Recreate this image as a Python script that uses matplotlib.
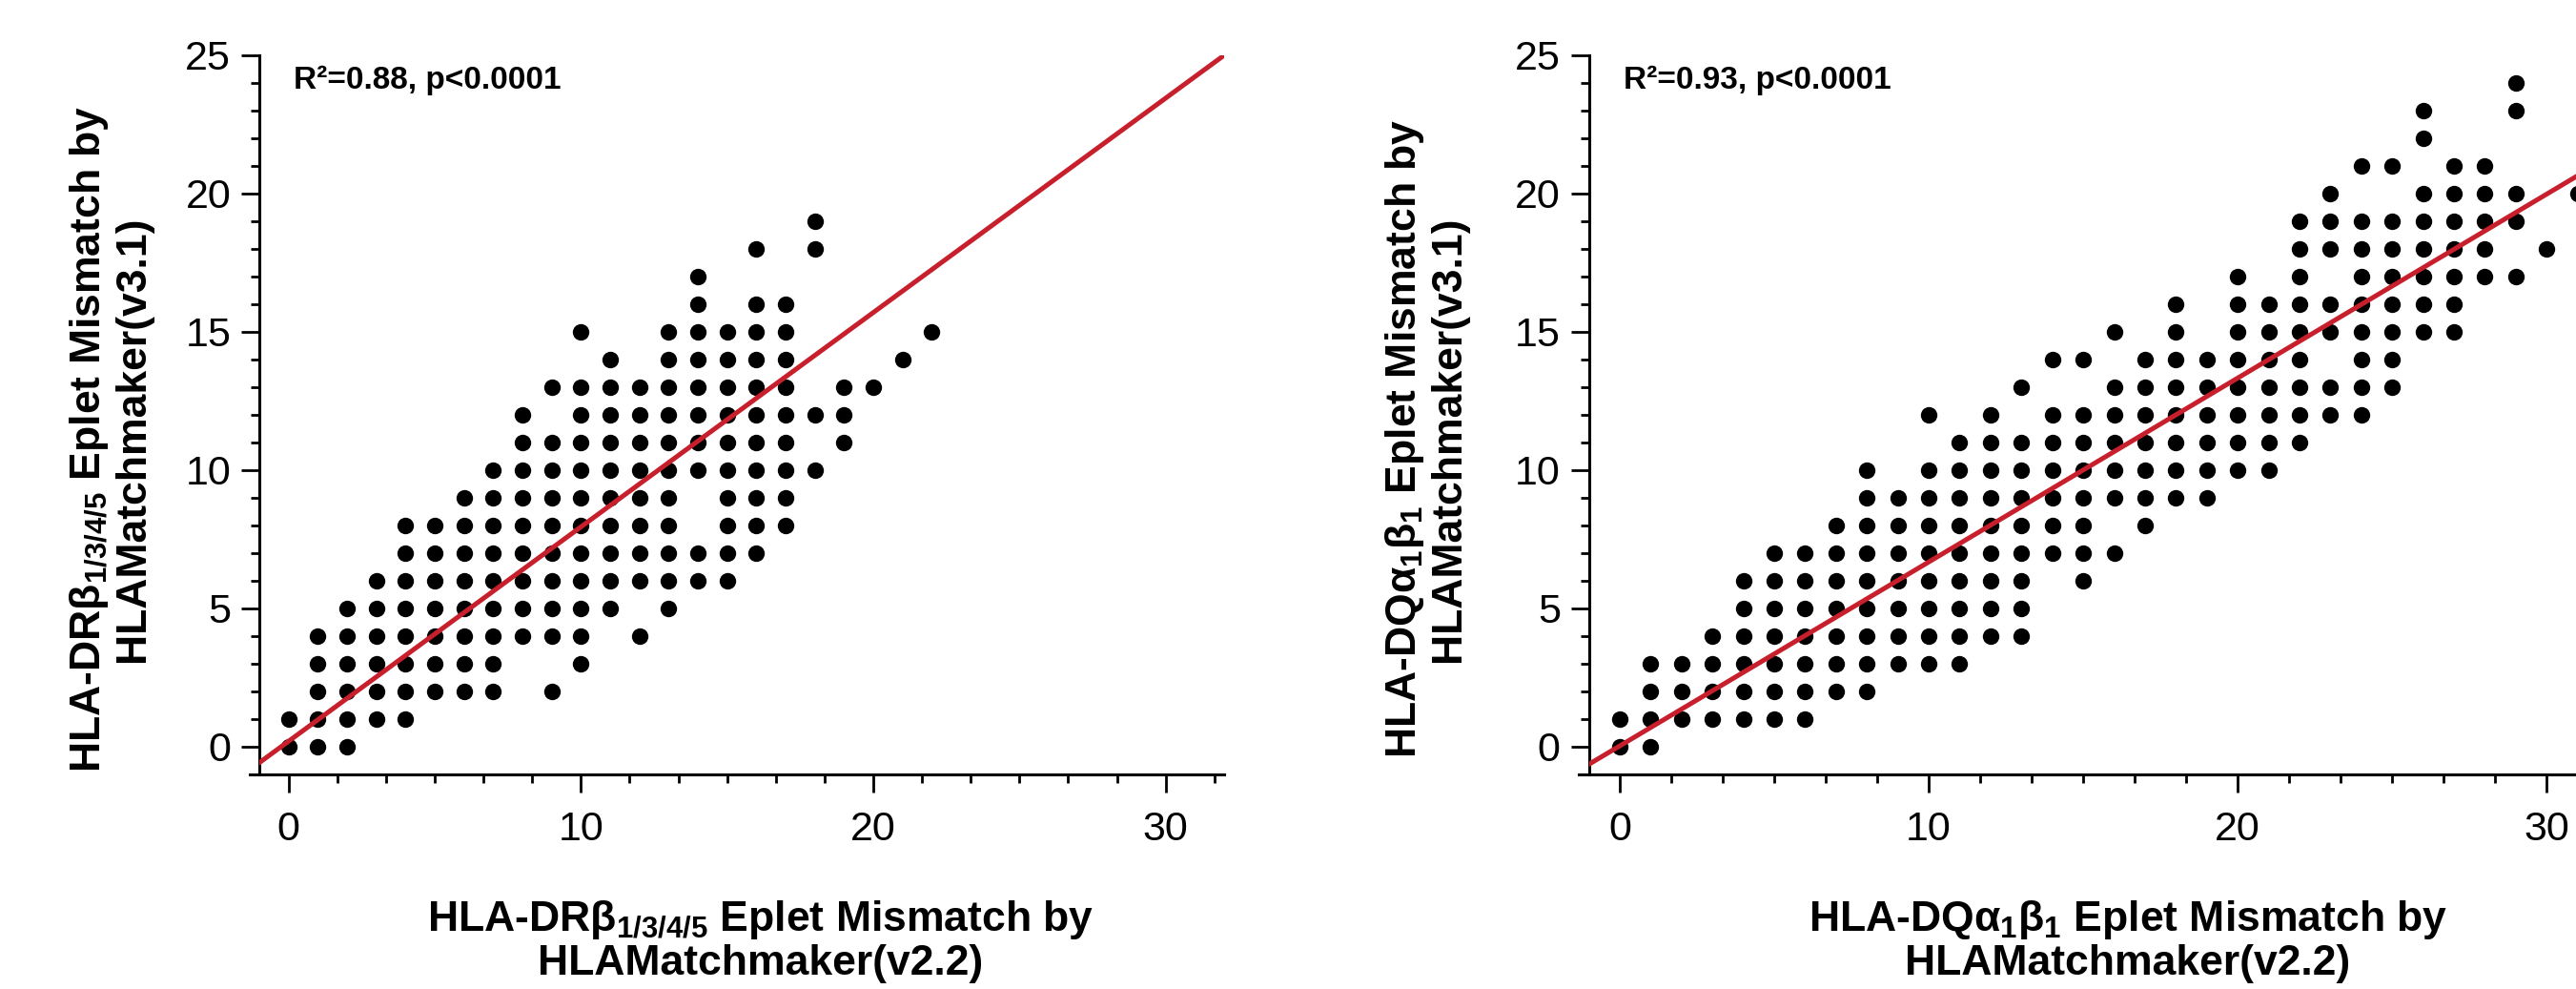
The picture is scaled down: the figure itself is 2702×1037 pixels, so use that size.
import numpy as np
import matplotlib
matplotlib.use('Agg')
import matplotlib.pyplot as plt
from matplotlib.ticker import MultipleLocator, AutoMinorLocator

plt.rcParams['font.family'] = ['Liberation Sans', 'DejaVu Sans']
plt.rcParams['mathtext.default'] = 'regular'

# HLA-DR panel: x value and the y values seen at that x
dr_x = list(range(0, 23))
dr_y = [
    [0, 1],
    [0, 1, 2, 3, 4],
    [0, 1, 2, 3, 4, 5],
    [1, 2, 3, 4, 5, 6],
    [1, 2, 3, 4, 5, 6, 7, 8],
    [2, 3, 4, 5, 6, 7, 8],
    [2, 3, 4, 5, 6, 7, 8, 9],
    [2, 3, 4, 5, 6, 7, 8, 9, 10],
    [4, 5, 6, 7, 8, 9, 10, 11, 12],
    [2, 4, 5, 6, 7, 8, 9, 10, 11, 13],
    [3, 4, 5, 6, 7, 8, 9, 10, 11, 12, 13, 15],
    [5, 6, 7, 8, 9, 10, 11, 12, 13, 14],
    [4, 6, 7, 8, 9, 10, 11, 12, 13],
    [5, 6, 7, 8, 9, 10, 11, 12, 13, 14, 15],
    [6, 7, 10, 11, 12, 13, 14, 15, 16, 17],
    [6, 7, 8, 9, 10, 11, 12, 13, 14, 15],
    [7, 8, 9, 10, 11, 12, 13, 14, 15, 16, 18],
    [8, 9, 10, 11, 12, 13, 14, 15, 16],
    [10, 12, 18, 19],
    [11, 12, 13],
    [13],
    [14],
    [15],
]
dr_fit = (0.775, 0.2)   # slope, intercept
dr_stat = 'R²=0.88, p<0.0001'

# HLA-DQ panel
dq_x = list(range(0, 32))
dq_y = [
    [0, 1],
    [0, 1, 2, 3],
    [1, 2, 3],
    [1, 2, 3, 4],
    [1, 2, 3, 4, 5, 6],
    [1, 2, 3, 4, 5, 6, 7],
    [1, 2, 3, 4, 5, 6, 7],
    [2, 3, 4, 5, 6, 7, 8],
    [2, 3, 4, 5, 6, 7, 8, 9, 10],
    [3, 4, 5, 6, 7, 8, 9],
    [3, 4, 5, 6, 7, 8, 9, 10, 12],
    [3, 4, 5, 6, 7, 8, 9, 10, 11],
    [4, 5, 6, 7, 8, 9, 10, 11, 12],
    [4, 5, 6, 7, 8, 9, 10, 11, 13],
    [7, 8, 9, 10, 11, 12, 14],
    [6, 7, 8, 9, 10, 11, 12, 14],
    [7, 9, 10, 11, 12, 13, 15],
    [8, 9, 10, 11, 12, 13, 14],
    [9, 10, 11, 12, 13, 14, 15, 16],
    [9, 10, 11, 12, 13, 14],
    [10, 11, 12, 13, 14, 15, 16, 17],
    [10, 11, 12, 13, 14, 15, 16],
    [11, 12, 13, 14, 15, 16, 17, 18, 19],
    [12, 13, 15, 16, 18, 19, 20],
    [12, 13, 14, 15, 16, 17, 18, 19, 21],
    [13, 14, 15, 16, 17, 18, 19, 21],
    [15, 16, 17, 18, 19, 20, 22, 23],
    [15, 16, 17, 18, 19, 20, 21],
    [17, 18, 19, 20, 21],
    [17, 19, 20, 23, 24],
    [18],
    [20],
]
dq_fit = (0.665, 0.03)
dq_stat = 'R²=0.93, p<0.0001'

dr_xlabel = 'HLA-DRβ$_{1/3/4/5}$ Eplet Mismatch by\nHLAMatchmaker(v2.2)'
dr_ylabel = 'HLA-DRβ$_{1/3/4/5}$ Eplet Mismatch by\nHLAMatchmaker(v3.1)'
dq_xlabel = 'HLA-DQα$_1$β$_1$ Eplet Mismatch by\nHLAMatchmaker(v2.2)'
dq_ylabel = 'HLA-DQα$_1$β$_1$ Eplet Mismatch by\nHLAMatchmaker(v3.1)'

RED = '#c81f2d'


def panel(ax, xs, ys, fit, stat, stat_x):
    px = [x for x, col in zip(xs, ys) for _ in col]
    py = [y for col in ys for y in col]
    ax.plot(px, py, 'o', color='black', ms=12.5, mew=0, zorder=2)
    lx = np.array([-1, 32])
    ax.plot(lx, fit[0] * lx + fit[1], color=RED, lw=3.6, zorder=3)
    ax.set_xlim(-1, 32)
    ax.set_ylim(-1, 25)
    ax.xaxis.set_major_locator(MultipleLocator(10))
    ax.xaxis.set_minor_locator(AutoMinorLocator(6))
    ax.yaxis.set_major_locator(MultipleLocator(5))
    ax.yaxis.set_minor_locator(MultipleLocator(1))
    for s in ['top', 'right']:
        ax.spines[s].set_visible(False)
    for s in ['left', 'bottom']:
        ax.spines[s].set_linewidth(2.2)
    ax.spines['bottom'].set_bounds(-1.33, 32)
    ax.tick_params(which='major', length=13.5, width=2, labelsize=31)
    ax.tick_params(which='minor', length=6.5, width=2)
    ax.tick_params(axis='x', which='major', pad=14)
    ax.tick_params(axis='y', which='major', pad=8)
    ax.text(stat_x, 24.1, stat, fontsize=24, fontweight='bold', va='center', ha='left')


fig = plt.figure(figsize=(27.02, 10.37), dpi=100)
ax1 = fig.add_axes([0.1007, 0.2170, 0.3745, 0.7271])
ax2 = fig.add_axes([0.6168, 0.2170, 0.3958, 0.7271])

panel(ax1, dr_x, dr_y, dr_fit, dr_stat, 0.17)
panel(ax2, dq_x, dq_y, dq_fit, dq_stat, 0.12)

# va='baseline' puts the baseline of the last line at the anchor
xlab = dict(fontsize=32, fontweight='bold', ha='center', va='baseline',
            multialignment='center', linespacing=1.1)
ylab = dict(fontsize=32, fontweight='bold', ha='center', va='baseline',
            multialignment='center', linespacing=1.1, rotation=90,
            rotation_mode='anchor')
fig.text(0.2953, 0.0145, dr_xlabel, **xlab)
fig.text(0.0548, 0.5564, dr_ylabel, **ylab)
fig.text(0.8260, 0.0145, dq_xlabel, **xlab)
fig.text(0.5655, 0.5564, dq_ylabel, **ylab)

fig.savefig('out.png', dpi=100)
